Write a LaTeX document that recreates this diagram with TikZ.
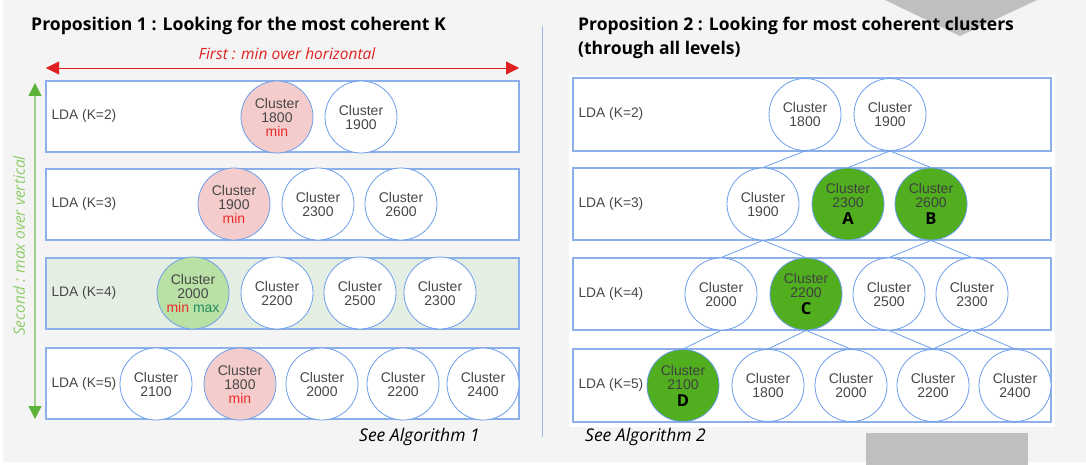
\documentclass[tikz,border=0pt]{standalone}
\usepackage{fontspec}
\setmainfont{Liberation Sans}
\newfontfamily\opensans{Open Sans}
\usetikzlibrary{arrows.meta}

\definecolor{bggray}{HTML}{F4F4F4}
\definecolor{shapegray}{HTML}{BFBFBF}
\definecolor{lineblue}{HTML}{6D9EEB}
\definecolor{boxblue}{HTML}{8EB0EA}
\definecolor{txtgray}{HTML}{474747}
\definecolor{minpink}{HTML}{F4CCCC}
\definecolor{lightgreen}{HTML}{B9E0A5}
\definecolor{rowgreen}{HTML}{E4EEE3}
\definecolor{darkgreen}{HTML}{50AE1F}
\definecolor{minred}{HTML}{EE2A2A}
\definecolor{maxgreen}{HTML}{1F8C5A}
\definecolor{arrowred}{HTML}{E02020}
\definecolor{arrowgreen}{HTML}{5DB33A}
\definecolor{labelgreen}{HTML}{8FCC6A}

\begin{document}
\begin{tikzpicture}[x=1pt,y=-1pt]
\useasboundingbox (0,0) rectangle (1086,465);
\fill[white] (0,0) rectangle (1086,465);
\fill[bggray] (3,0) rectangle (1086,462);
\fill[shapegray] (885,0) -- (1037,0) -- (960,36) -- cycle;
\fill[shapegray] (866,433) rectangle (1028,465);
\fill[white] (569,75) rectangle (1055,427);
\draw[lineblue!70, line width=1pt] (542,26) -- (542,437);

% titles
\node (t1)[anchor=west, inner sep=0] at (31,26) {\opensans\bfseries\fontsize{17.6}{20}\selectfont Proposition 1 : Looking for the most coherent K};
\node (t2)[anchor=north west, align=left, inner sep=0, font=\opensans\bfseries\fontsize{17.5}{24}\selectfont] at (578,17) {Proposition 2 : Looking for most coherent clusters\\(through all levels)};

% arrows of proposition 1
\coordinate (hl) at (46,68);
\coordinate (hr) at (519,68);
\coordinate (vt) at (35,83);
\coordinate (vb) at (35,419);
\draw[arrowred, {Triangle[length=13pt,width=13pt]}-{Triangle[length=13pt,width=13pt]}] (hl) -- (hr);
\draw[arrowgreen!60, line width=1.2pt, {Triangle[length=13pt,width=13pt,fill=arrowgreen,color=arrowgreen]}-{Triangle[length=13pt,width=13pt,fill=arrowgreen,color=arrowgreen]}] (vt) -- (vb);
\node (h)[text=arrowred] at (287,54) {\opensans\itshape\fontsize{15.5}{16}\selectfont First : min over horizontal};
\node (v)[text=labelgreen, rotate=90] at (19,246) {\opensans\itshape\fontsize{15.5}{16}\selectfont Second : max over vertical};

% rows
\draw[boxblue, line width=1.2pt, fill=white] (46,81) rectangle (519,152);
\draw[boxblue, line width=1.2pt, fill=white] (46,169) rectangle (519,240);
\draw[boxblue, line width=1.2pt, fill=rowgreen] (46,258) rectangle (519,329);
\draw[boxblue, line width=1.2pt, fill=white] (46,348) rectangle (519,419);
\draw[boxblue, line width=1.2pt] (573,78) rectangle (1051,151);
\draw[boxblue, line width=1.2pt] (573,168) rectangle (1051,240);
\draw[boxblue, line width=1.2pt] (573,258) rectangle (1051,330);
\draw[boxblue, line width=1.2pt] (573,349) rectangle (1051,422);

\begin{scope}[every node/.style={anchor=west, text=txtgray, font=\fontsize{13.8}{14}\selectfont}]
\node (l2) at (48,116) {LDA (K=2)};
\node (l3) at (48,204) {LDA (K=3)};
\node (l4) at (48,293) {LDA (K=4)};
\node (l5) at (48,384) {LDA (K=5)};
\node (r2) at (575,114) {LDA (K=2)};
\node (r3) at (575,204) {LDA (K=3)};
\node (r4) at (575,294) {LDA (K=4)};
\node (r5) at (575,385) {LDA (K=5)};
\end{scope}

\begin{scope}[every node/.style={circle, draw=lineblue, line width=0.8pt, fill=white, minimum size=72, inner sep=0, align=center, text=txtgray, font=\fontsize{14}{14}\selectfont}]
% proposition 1
\node (0)[fill=minpink] at (277,117) {Cluster\\1800\\\textcolor{minred}{min}};
\node (1) at (361,117) {Cluster\\1900};

\node (2)[fill=minpink] at (234,204) {Cluster\\1900\\\textcolor{minred}{min}};
\node (3) at (318,204) {Cluster\\2300};
\node (4) at (401,204) {Cluster\\2600};

\node (5)[fill=lightgreen] at (193,293) {Cluster\\2000\\\textcolor{minred}{min} \textcolor{maxgreen}{max}};
\node (6) at (277,293) {Cluster\\2200};
\node (7) at (360,293) {Cluster\\2500};
\node (8) at (440,293) {Cluster\\2300};

\node (9) at (156,384) {Cluster\\2100};
\node (10)[fill=minpink] at (240,384) {Cluster\\1800\\\textcolor{minred}{min}};
\node (11) at (322,384) {Cluster\\2000};
\node (12) at (403,384) {Cluster\\2200};
\node (13) at (483,384) {Cluster\\2400};

% proposition 2
\node (14) at (805,114.5) {Cluster\\1800};
\node (15) at (890,114.5) {Cluster\\1900};

\node (16) at (763,204) {Cluster\\1900};
\node (17)[fill=darkgreen, text=black!75] at (848,204) {Cluster\\2300\\[3pt]{\color{black}\opensans\bfseries\fontsize{16.5}{16}\selectfont A}};
\node (18)[fill=darkgreen, text=black!75] at (931,204) {Cluster\\2600\\[3pt]{\color{black}\opensans\bfseries\fontsize{16.5}{16}\selectfont B}};

\node (19) at (721,294) {Cluster\\2000};
\node (20)[fill=darkgreen, text=black!75] at (806,294) {Cluster\\2200\\[3pt]{\color{black}\opensans\bfseries\fontsize{16.5}{16}\selectfont C}};
\node (21) at (889,294) {Cluster\\2500};
\node (22) at (972,294) {Cluster\\2300};

\node (23)[fill=darkgreen, text=black!75] at (683,385.5) {Cluster\\2100\\[3pt]{\color{black}\opensans\bfseries\fontsize{16.5}{16}\selectfont D}};
\node (24) at (768,385.5) {Cluster\\1800};
\node (25) at (851,385.5) {Cluster\\2000};
\node (26) at (933,385.5) {Cluster\\2200};
\node (27) at (1015,385.5) {Cluster\\2400};
\end{scope}

\draw[lineblue, line width=0.8pt] (14.south) -- (16.north);
\draw[lineblue, line width=0.8pt] (15.south) -- (17.north);
\draw[lineblue, line width=0.8pt] (15.south) -- (18.north);
\draw[lineblue, line width=0.8pt] (16.south) -- (19.north);
\draw[lineblue, line width=0.8pt] (16.south) -- (20.north);
\draw[lineblue, line width=0.8pt] (18.south) -- (21.north);
\draw[lineblue, line width=0.8pt] (18.south) -- (22.north);
\draw[lineblue, line width=0.8pt] (19.south) -- (23.north);
\draw[lineblue, line width=0.8pt] (20.south) -- (24.north);
\draw[lineblue, line width=0.8pt] (20.south) -- (25.north);
\draw[lineblue, line width=0.8pt] (21.south) -- (26.north);
\draw[lineblue, line width=0.8pt] (22.south) -- (26.north);
\draw[lineblue, line width=0.8pt] (22.south) -- (27.north);

\node (s1)[anchor=west, inner sep=0] at (359,437) {\opensans\itshape\fontsize{17.5}{18}\selectfont See Algorithm 1};
\node (s2)[anchor=west, inner sep=0] at (585,437) {\opensans\itshape\fontsize{17.5}{18}\selectfont See Algorithm 2};
\end{tikzpicture}
\end{document}
